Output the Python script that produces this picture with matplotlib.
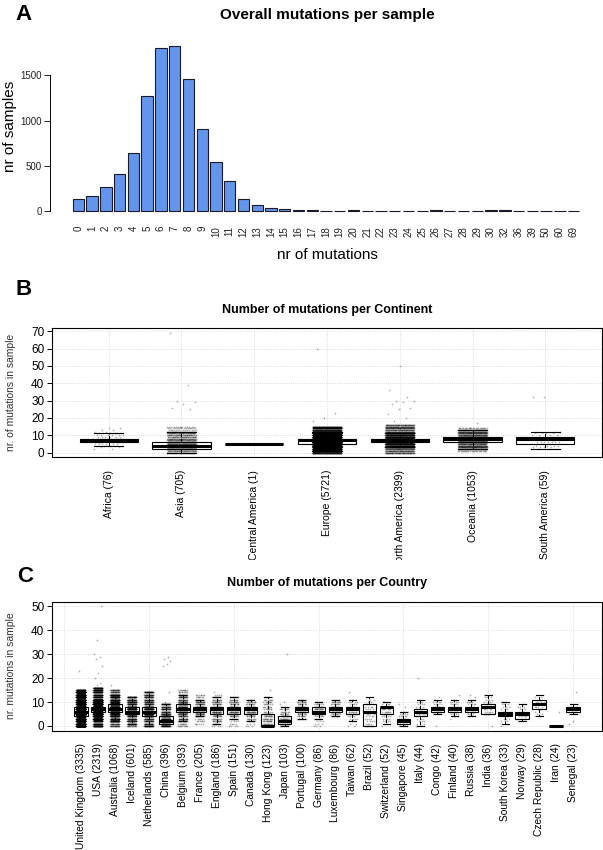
import numpy as np
import matplotlib
matplotlib.use('Agg')
import matplotlib.pyplot as plt
from matplotlib.transforms import Bbox, TransformedBbox

plt.rcParams['font.family'] = ['Liberation Sans', 'DejaVu Sans']

# panel A: overall mutations per sample
mut_labels = ['0', '1', '2', '3', '4', '5', '6', '7', '8', '9', '10', '11', '12', '13',
              '14', '15', '16', '17', '18', '19', '20', '21', '22', '23', '24', '25', '26',
              '27', '28', '29', '30', '32', '36', '39', '50', '60', '69']
mut_counts = [129, 169, 262, 409, 637, 1271, 1801, 1823, 1458, 906, 545, 335, 129, 63,
              37, 18, 8, 8, 3, 3, 6, 2, 2, 2, 2, 2, 6, 2, 2, 5, 6, 6, 1, 1, 1, 1, 1]

# panel B: per continent
continents = ['Africa', 'Asia', 'Central America', 'Europe', 'North America', 'Oceania',
              'South America']
cont_n = [76, 705, 1, 5721, 2399, 1053, 59]
cont_med = [7, 4, 5, 7, 7, 8, 8]
cont_q1 = [6, 2, 5, 5, 6, 6, 5]
cont_q3 = [8, 6, 5, 8, 8, 9, 9]
cont_wlo = [4, 0, 5, 1, 3, 2, 2]
cont_whi = [11, 12, 5, 12, 11, 13, 12]
cont_cloud_lo = [2, 0, 5, 0, 0, 1, 2]
cont_cloud_hi = [14, 15, 5, 15, 16, 14, 12]
cont_out = [[], [69, 39, 30, 29, 28, 26, 25], [], [60, 23, 20, 18],
            [50, 36, 32, 30, 30, 29, 28, 26, 25, 22, 20, 18], [17], [32, 32]]

# panel C: per country
countries = ['United Kingdom', 'USA', 'Australia', 'Iceland', 'Netherlands', 'China',
             'Belgium', 'France', 'England', 'Spain', 'Canada', 'Hong Kong', 'Japan',
             'Portugal', 'Germany', 'Luxembourg', 'Taiwan', 'Brazil', 'Switzerland',
             'Singapore', 'Italy', 'Congo', 'Finland', 'Russia', 'India', 'South Korea',
             'Norway', 'Czech Republic', 'Iran', 'Senegal']
country_n = [3335, 2319, 1068, 601, 585, 396, 393, 205, 186, 151, 130, 123, 103, 100, 86,
             86, 62, 52, 52, 45, 44, 42, 40, 38, 36, 33, 29, 28, 24, 23]
country_med = [6, 7, 7, 6, 6, 2, 7, 7, 7, 7, 7, 0, 2, 7, 6, 7, 7, 6, 8, 2, 6, 7, 7, 7, 8,
               5, 5, 9, 0, 7]
country_q1 = [4, 6, 6, 5, 4, 1, 6, 6, 5, 5, 5, 0, 1, 6, 5, 6, 5, 0, 5, 1, 4, 6, 6, 6, 5,
              4, 3, 7, 0, 6]
country_q3 = [8, 8, 9, 8, 8, 4, 9, 8, 8, 8, 8, 5, 4, 8, 8, 8, 8, 9, 8, 3, 7, 8, 8, 8, 9,
              6, 6, 11, 0, 8]
country_wlo = [0, 3, 2, 1, 0, 0, 2, 4, 1, 3, 2, 0, 0, 3, 3, 4, 2, 0, 1, 0, 0, 5, 4, 4, 5,
               1, 2, 4, 0, 5]
country_whi = [14, 11, 13, 12, 14, 9, 13, 11, 12, 12, 11, 12, 8, 11, 10, 11, 11, 12, 10, 6,
               11, 11, 11, 11, 13, 10, 9, 13, 0, 9]
country_cloud_lo = [0, 0, 0, 0, 0, 0, 0, 1, 0, 0, 0, 0, 0, 3, 0, 4, 0, 0, 0, 0, 0, 5, 3, 4,
                    5, 0, 2, 4, 0, 5]
country_cloud_hi = [15, 16, 15, 12, 14, 9, 15, 13, 13, 12, 11, 12, 8, 11, 10, 11, 11, 12,
                    10, 6, 11, 11, 11, 11, 13, 10, 9, 13, 0, 9]
country_out = [[23], [50, 36, 30, 29, 28, 25, 22, 20, 18, 17], [17], [], [],
               [29, 28, 27, 26, 25, 14, 10], [], [13, 12], [14], [], [], [15], [30, 10, 9],
               [], [], [], [14], [], [], [9, 8], [20], [12, 0], [13], [13, 12], [0], [], [],
               [], [6], [14, 2, 1]]

W, H = 603, 850
fig = plt.figure(figsize=(W / 100, H / 100), dpi=100)


def px_axes(left, right, top, bottom):
    return fig.add_axes([left / W, 1 - bottom / H, (right - left) / W, (bottom - top) / H])


def ftext(x, y, s, **kw):
    fig.text(x / W, 1 - y / H, s, **kw)


# ---- A ----
axA = px_axes(50, 602, 39.5, 217.6)
xa = np.arange(len(mut_counts))
axA.bar(xa, mut_counts, width=1 / 1.2, color='#6495ED', edgecolor='#1a1a2a', linewidth=0.8)
axA.set_xlim(-2.07, 38.07)
axA.set_ylim(-73, 1896)
for s in ['top', 'right', 'bottom']:
    axA.spines[s].set_visible(False)
axA.spines['left'].set_bounds(0, 1500)
axA.spines['left'].set_linewidth(0.7)
axA.set_yticks([0, 500, 1000, 1500])
axA.tick_params(axis='y', labelsize=7, length=4, width=0.7, pad=2, colors='#222222')
axA.set_xticks(xa)
axA.set_xticklabels(mut_labels, rotation=90, fontsize=7, color='#222222')
axA.tick_params(axis='x', length=0, pad=6)
ftext(327, 15.5, 'Overall mutations per sample', fontsize=11, fontweight='bold',
      ha='center', va='center')
ftext(327, 255, 'nr of mutations', fontsize=11, ha='center', va='center')
ftext(10, 126, 'nr of samples', fontsize=11, rotation=90, ha='center', va='center')


def strip_box(ax, med, q1, q3, wlo, whi, clo, chi, n, outs, jw, ylim, grid_x):
    pos = np.arange(1, len(med) + 1)
    stats = []
    for i in range(len(med)):
        stats.append(dict(med=med[i], q1=q1[i], q3=q3[i], whislo=wlo[i], whishi=whi[i],
                          fliers=[]))
    for gy in ax.get_yticks():
        ax.axhline(gy, color='#d0d0d0', lw=0.6, ls=':', zorder=0)
    for gx in grid_x:
        ax.axvline(gx, color='#d0d0d0', lw=0.6, ls=':', zorder=0)
    ax.bxp(stats, positions=pos, widths=0.8, capwidths=0.4, showfliers=False,
           patch_artist=True,
           boxprops=dict(facecolor='white', edgecolor='black', linewidth=0.8),
           medianprops=dict(color='black', linewidth=2.2),
           whiskerprops=dict(color='black', linewidth=0.7, linestyle='--'),
           capprops=dict(color='black', linewidth=0.8), zorder=2)
    for i in range(len(med)):
        levels = np.arange(clo[i], chi[i] + 1)
        # points thin out away from the box
        wt = np.where((levels >= q1[i]) & (levels <= q3[i]), 1.0,
                      np.where((levels >= wlo[i]) & (levels <= whi[i]), 0.55, 0.2))
        per = np.maximum(1, np.round(n[i] * wt / wt.sum())).astype(int)
        ys = np.concatenate([np.repeat(levels, per), np.array(outs[i], dtype=float)])
        k = np.arange(len(ys))
        xs = pos[i] + (np.mod(k * 0.6180339887, 1) - 0.5) * 2 * jw
        ax.scatter(xs, ys, s=1.6, c='black', alpha=0.3, linewidths=0, zorder=3)
    ax.set_ylim(*ylim)
    for s in ax.spines.values():
        s.set_linewidth(0.8)
    ax.tick_params(axis='y', labelsize=8.5, length=3.5, width=0.7, pad=2)
    ax.tick_params(axis='x', length=0, pad=9, labelsize=7.5)


# ---- B ----
axB = px_axes(52, 602, 328.3, 457.3)
axB.set_yticks(np.arange(0, 71, 10))
strip_box(axB, cont_med, cont_q1, cont_q3, cont_wlo, cont_whi, cont_cloud_lo,
          cont_cloud_hi, cont_n, cont_out, 0.2, (-2.76, 71.76), range(1, 8))
axB.set_xlim(0.22, 7.78)
axB.set_xticks(np.arange(1, 8))
axB.set_xticklabels([f'{c} ({n})' for c, n in zip(continents, cont_n)], rotation=90)
clipB = TransformedBbox(Bbox([[0, 1 - 560 / H], [1, 1]]), fig.transFigure)
for lbl in axB.get_xticklabels():
    lbl.set_clip_box(clipB)
    lbl.set_clip_on(True)
ftext(327, 310, 'Number of mutations per Continent', fontsize=9, fontweight='bold',
      ha='center', va='center')
ftext(11, 392.5, 'nr. of mutations in sample', fontsize=7.4, rotation=90,
      ha='center', va='center', color='#333333')

# ---- C ----
axC = px_axes(52, 602, 601.7, 730.7)
axC.set_yticks(np.arange(0, 51, 10))
strip_box(axC, country_med, country_q1, country_q3, country_wlo, country_whi,
          country_cloud_lo, country_cloud_hi, country_n, country_out, 0.27, (-2, 52),
          range(0, 31, 5))
axC.set_xlim(-0.7, 31.7)
axC.set_xticks(np.arange(1, 31))
axC.set_xticklabels([f'{c} ({n})' for c, n in zip(countries, country_n)], rotation=90,
                    fontsize=7.4)
ftext(327, 583, 'Number of mutations per Country', fontsize=9, fontweight='bold',
      ha='center', va='center')
ftext(11, 666, 'nr. mutations in sample', fontsize=7.5, rotation=90,
      ha='center', va='center', color='#333333')

# panel letters
ftext(23, 14, 'A', fontsize=16, fontweight='bold', ha='center', va='center')
ftext(24, 289, 'B', fontsize=16, fontweight='bold', ha='center', va='center')
ftext(25, 577, 'C', fontsize=16, fontweight='bold', ha='center', va='center')

fig.savefig('out.png', dpi=100)
